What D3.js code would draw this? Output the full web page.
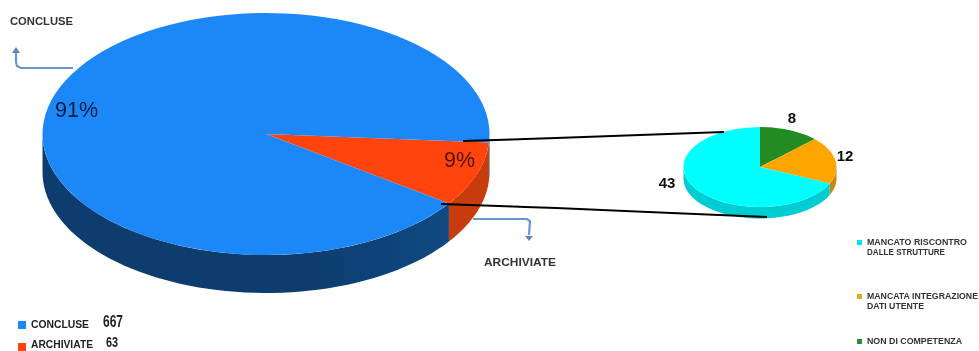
<!DOCTYPE html>
<html><head><meta charset="utf-8">
<script src="https://d3js.org/d3.v7.min.js"></script>
<style>html,body{margin:0;padding:0;background:#fff;overflow:hidden}svg{display:block}text{font-family:"Liberation Sans",Arial,sans-serif}</style>
</head><body><svg id="c" width="979" height="351"></svg>
<script>
const mainCategories = ["ARCHIVIATE","CONCLUSE"];
const mainValues = [63,667];
const mainPercents = ["9%","91%"];
const detailCategories = ["NON DI COMPETENZA","MANCATA INTEGRAZIONE DATI UTENTE","MANCATO RISCONTRO DALLE STRUTTURE"];
const detailValues = [8,12,43];

const svg = d3.select("#c");
const defs = svg.append("defs");
const blur = defs.append("filter").attr("id","soft").attr("x","-5%").attr("y","-5%").attr("width","110%").attr("height","110%");
blur.append("feGaussianBlur").attr("stdDeviation",0.45);
const root = svg.append("g").attr("filter","url(#soft)");

function grad(id,stops){
  const g = defs.append("linearGradient").attr("id",id).attr("gradientUnits","userSpaceOnUse")
    .attr("x1",stops.x1).attr("x2",stops.x2).attr("y1",0).attr("y2",0);
  stops.c.forEach(([o,col])=>g.append("stop").attr("offset",o).attr("stop-color",col));
}
grad("blueSide",{x1:42,x2:448,c:[[0,"#0f3d6e"],[0.4,"#124a85"],[0.55,"#18568f"],[0.8,"#1c68b8"],[1,"#2078d2"]]});
grad("redSide",{x1:448,x2:489,c:[[0,"#c83a0c"],[1,"#dc430e"]]});

const rad = d3.scaleLinear().domain([0,360]).range([0,2*Math.PI]);

function pie3d(cfg){
  const {cx,cy,rx,ry,depth,start,values,tops,sides} = cfg;
  const k = ry/rx;
  const arcs = d3.pie().sort(null).startAngle(rad(start)).endAngle(rad(start+360))(values);
  const g = root.append("g").attr("transform",`translate(${cx},${cy})`);
  const px = a=>rx*Math.sin(a), py = a=>-ry*Math.cos(a);
  arcs.forEach((d,i)=>{
    const pieces = [[d.startAngle,d.endAngle],[d.startAngle-2*Math.PI,d.endAngle-2*Math.PI]];
    pieces.forEach(([a0,a1])=>{
      const s = Math.max(a0,Math.PI/2), e = Math.min(a1,3*Math.PI/2);
      if(e<=s) return;
      const pts = d3.range(0,61).map(j=>s+(e-s)*j/60);
      const top = pts.map(a=>[px(a),py(a)]);
      const bot = pts.slice().reverse().map(a=>[px(a),py(a)+depth]);
      g.append("path").attr("d",d3.line()(top.concat(bot))+"Z").attr("fill",sides[i]);
    });
  });
  const arc = d3.arc().innerRadius(0).outerRadius(rx);
  const face = g.append("g").attr("transform",`scale(1,${k})`);
  face.selectAll("path").data(arcs).join("path").attr("d",arc).attr("fill",(d,i)=>tops[i]);
}

pie3d({cx:266,cy:134,rx:223.5,ry:121,depth:38,start:94,values:mainValues,
  tops:["#ff4510","#1e88f8"],sides:["url(#redSide)","url(#blueSide)"]});
pie3d({cx:760,cy:167,rx:76.5,ry:40,depth:11.5,start:0,values:detailValues,
  tops:["#228b22","#ffa500","#00ffff"],sides:["#1a6e1a","#c8860c","#00cdd2"]});

// connector lines
const conn = d3.line();
[[[463,141],[556,138],[724,132]],[[441,204],[556,208],[648,212],[767,217]]].forEach(p=>
  root.append("path").attr("d",conn(p)).attr("fill","none").attr("stroke","#000").attr("stroke-width",2));

// arrows
function arrow(p,tip){
  root.append("path").attr("d",d3.line()(p)).attr("fill","none").attr("stroke","#6a95cf").attr("stroke-width",2.2);
  root.append("path").attr("d",d3.line()(tip)+"Z").attr("fill","#5a88c4");
}
arrow([[73,68],[21,68],[17,66],[16,62],[16,51]],[[12,53],[20,53],[16,47]]);
arrow([[473,219],[527,219],[530,221],[529,235]],[[525,236],[533,236],[529,241]]);

function txt(x,y,s,size,opt={}){
  const t = root.append("text").attr("x",x).attr("y",y).text(s).attr("font-size",size)
    .attr("font-weight",opt.w||"normal").attr("fill",opt.c||"#111")
    .attr("text-anchor",opt.a||"start");
  if(opt.len) t.attr("textLength",opt.len).attr("lengthAdjust","spacingAndGlyphs");
  return t;
}
txt(10,25,mainCategories[1],11,{w:"bold",c:"#333",len:63});
txt(484,265.5,mainCategories[0],11,{w:"bold",c:"#333",len:72});
txt(55,117,mainPercents[1],21.5,{c:"#0a1a40"});
txt(444,167,mainPercents[0],21.5,{c:"#501000"});

txt(792,123,detailValues[0],15,{w:"bold",a:"middle"});
txt(845,161,detailValues[1],15,{w:"bold",a:"middle"});
txt(667,188,detailValues[2],15,{w:"bold",a:"middle"});

// legend right
const legendColors = ["#00e5e5","#e8a81c","#2f8a3a"];
const legendY = [242,296,341];
const legendLines = [["MANCATO RISCONTRO","DALLE STRUTTURE"],["MANCATA INTEGRAZIONE","DATI UTENTE"],["NON DI COMPETENZA"]];
const legendWidths = [[100,78],[111,57],[95]];
legendLines.forEach((lines,i)=>{
  root.append("rect").attr("x",857).attr("y",legendY[i]-2).attr("width",5).attr("height",5).attr("fill",legendColors[i]);
  lines.forEach((l,j)=>txt(867,legendY[i]+3+j*9.5,l,8.4,{w:"bold",c:"#333",len:legendWidths[i][j]}));
});

// legend left
const leftColors = ["#1e88f8","#ff4510"];
const leftMarkY = [321,343];
const leftBase = [328,348];
const leftNumX = [103,106];
const leftNumBase = [327,347];
const leftNumLen = [20,12];
const leftLen = [58,62];
[1,0].forEach((src,i)=>{
  root.append("rect").attr("x",18).attr("y",leftMarkY[i]).attr("width",8).attr("height",8).attr("fill",leftColors[i]);
  txt(31,leftBase[i],mainCategories[src],10.5,{w:"bold",c:"#222",len:leftLen[i]});
  txt(leftNumX[i],leftNumBase[i],mainValues[src],i?14:16,{w:"bold",c:"#222",len:leftNumLen[i]});
});
</script></body></html>
